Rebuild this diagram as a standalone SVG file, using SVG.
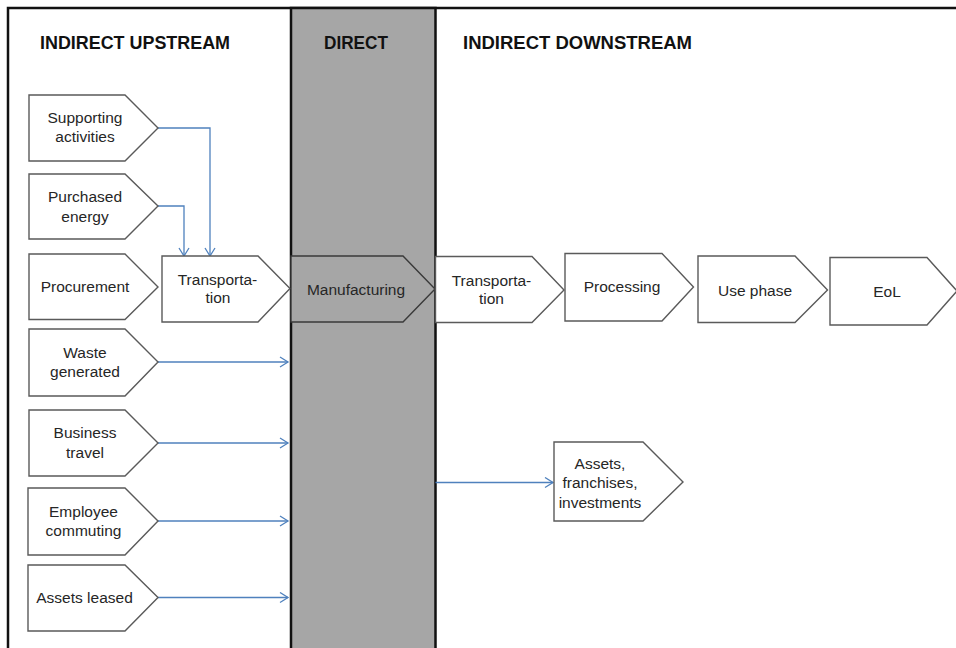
<svg xmlns="http://www.w3.org/2000/svg" width="956" height="648" viewBox="0 0 956 648">
  <defs>
    <marker id="open-arrow" markerUnits="userSpaceOnUse" markerWidth="12" markerHeight="12" viewBox="0 0 12 12" refX="10" refY="6" orient="auto">
      <path d="M2,1 L10,6 L2,11" fill="none" stroke="#4f81bd" stroke-width="1.3"/>
    </marker>
    <style>
      .frame { fill: none; stroke: #111; stroke-width: 2.5; }
      .column { fill: #a6a6a6; stroke: #111; stroke-width: 2.5; }
      .heading { font-family: "Liberation Sans", Arial, sans-serif; font-weight: bold; font-size: 18px; fill: #111; }
      .node polygon { fill: #fff; stroke: #5a5a5a; stroke-width: 1.4; }
      .node.dark polygon { fill: #a6a6a6; stroke: #3a3a3a; }
      .node text { font-family: "Liberation Sans", Arial, sans-serif; font-size: 15.5px; fill: #262626; text-anchor: middle; }
      .conn { fill: none; stroke: #4f81bd; stroke-width: 1.3; marker-end: url(#open-arrow); }
    </style>
  </defs>

  <!-- background and lane frames -->
  <rect x="0" y="0" width="956" height="648" fill="#fff"/>
  <path class="frame" d="M8,660 V8 H970"/>
  <path class="column" d="M291,8 H435.5 V660 H291 Z"/>

  <!-- lane headings -->
  <text class="heading" x="40" y="49" textLength="190" lengthAdjust="spacingAndGlyphs">INDIRECT UPSTREAM</text>
  <text class="heading" x="324" y="49" textLength="64" lengthAdjust="spacingAndGlyphs">DIRECT</text>
  <text class="heading" x="463" y="49" textLength="229" lengthAdjust="spacingAndGlyphs">INDIRECT DOWNSTREAM</text>

  <!-- connectors -->
  <g id="connectors">
    <path class="conn" d="M158,128 H210 V256"/>
    <path class="conn" d="M158,206 H184 V256"/>
    <path class="conn" d="M158,362 H288"/>
    <path class="conn" d="M158,443 H288"/>
    <path class="conn" d="M158,521 H288"/>
    <path class="conn" d="M158,597.5 H288"/>
    <path class="conn" d="M435.5,482.5 H553"/>
  </g>

  <!-- upstream nodes -->
  <g id="supporting-activities" class="node">
    <polygon points="29,95 125,95 158,128 125,161 29,161"/>
    <text x="85" y="123">Supporting</text>
    <text x="85" y="142">activities</text>
  </g>
  <g id="purchased-energy" class="node">
    <polygon points="29,174 125,174 158,206 125,239 29,239"/>
    <text x="85" y="202">Purchased</text>
    <text x="85" y="221.5">energy</text>
  </g>
  <g id="procurement" class="node">
    <polygon points="29,254 125,254 158,287 125,319.5 29,319.5"/>
    <text x="85" y="292">Procurement</text>
  </g>
  <g id="transportation-upstream" class="node">
    <polygon points="162,256 258,256 290,288.5 258,322 162,322"/>
    <text x="217.5" y="285">Transporta-</text>
    <text x="218" y="303">tion</text>
  </g>
  <g id="waste-generated" class="node">
    <polygon points="29,329 125,329 158,362 125,396 29,396"/>
    <text x="85" y="358">Waste</text>
    <text x="85" y="377">generated</text>
  </g>
  <g id="business-travel" class="node">
    <polygon points="29,410 125,410 158,443 125,476 29,476"/>
    <text x="85" y="438">Business</text>
    <text x="85" y="457.5">travel</text>
  </g>
  <g id="employee-commuting" class="node">
    <polygon points="28,488 125,488 158,521 125,555 28,555"/>
    <text x="83.5" y="517">Employee</text>
    <text x="83.5" y="536">commuting</text>
  </g>
  <g id="assets-leased" class="node">
    <polygon points="28,565 125,565 158,597.5 125,631 28,631"/>
    <text x="84.5" y="603">Assets leased</text>
  </g>

  <!-- direct node -->
  <g id="manufacturing" class="node dark">
    <polygon points="291,256 403,256 435,289 403,322 291,322"/>
    <text x="356" y="295">Manufacturing</text>
  </g>

  <!-- downstream nodes -->
  <g id="transportation-downstream" class="node">
    <polygon points="435.5,256.5 532,256.5 564,290 532,322.5 435.5,322.5"/>
    <text x="491.5" y="285.5">Transporta-</text>
    <text x="491.5" y="304">tion</text>
  </g>
  <g id="processing" class="node">
    <polygon points="565,253.5 662,253.5 693.5,287 662,321 565,321"/>
    <text x="622" y="292">Processing</text>
  </g>
  <g id="use-phase" class="node">
    <polygon points="698,256 795,256 827.5,290 795,322.5 698,322.5"/>
    <text x="755" y="295.5">Use phase</text>
  </g>
  <g id="eol" class="node">
    <polygon points="830,257.5 927,257.5 957,291 927,325 830,325"/>
    <text x="887" y="296.5">EoL</text>
  </g>
  <g id="assets-franchises-investments" class="node">
    <polygon points="554,442 643,442 683,482 643,521 554,521"/>
    <text x="600" y="469">Assets,</text>
    <text x="600" y="488">franchises,</text>
    <text x="600" y="507.5">investments</text>
  </g>
</svg>
